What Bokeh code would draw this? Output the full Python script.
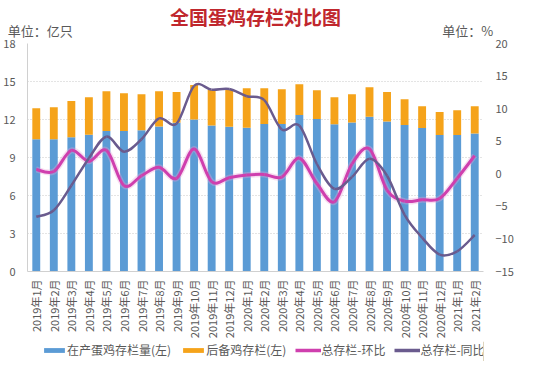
import numpy as np
from bokeh.plotting import figure
from bokeh.layouts import column
from bokeh.models import (Range1d, LinearAxis, FixedTicker,
                          Legend, LegendItem, ColumnDataSource)
from bokeh.embed import file_html
from bokeh.resources import INLINE

# ---------------- data ----------------
months = ["2019年1月", "2019年2月", "2019年3月", "2019年4月", "2019年5月", "2019年6月",
          "2019年7月", "2019年8月", "2019年9月", "2019年10月", "2019年11月", "2019年12月",
          "2020年1月", "2020年2月", "2020年3月", "2020年4月", "2020年5月", "2020年6月",
          "2020年7月", "2020年8月", "2020年9月", "2020年10月", "2020年11月", "2020年12月",
          "2021年1月", "2021年2月"]
layer_stock = [10.45, 10.45, 10.6, 10.8, 11.1, 11.1, 11.16, 11.45, 11.74, 12.0, 11.52, 11.43,
               11.35, 11.65, 11.65, 12.35, 12.03, 11.63, 11.77, 12.21, 11.85, 11.56, 11.32,
               10.77, 10.77, 10.9]
reserve_stock = [2.44, 2.52, 2.87, 2.96, 3.13, 2.97, 2.83, 2.78, 2.44, 2.73, 2.81, 2.90,
                 3.11, 2.81, 2.74, 2.43, 2.27, 2.13, 2.22, 2.33, 2.33, 2.04, 1.73, 1.83,
                 1.96, 2.15]
mom_pct = [0.65, 0.35, 3.6, 1.9, 3.6, -1.8, -0.3, 1.0, -0.7, 3.8, -1.2, -0.6, -0.2, -0.1,
           -0.5, 2.4, -1.5, -4.3, 1.5, 3.8, -2.5, -4.2, -4.0, -3.8, -0.7, 2.8]
yoy_pct = [-6.6, -5.6, -1.8, 2.4, 5.7, 3.4, 5.3, 8.5, 7.7, 13.5, 12.9, 13.0, 11.9, 11.3,
           6.8, 7.4, 1.5, -2.3, -0.5, 2.3, -0.3, -6.3, -9.8, -12.4, -11.9, -9.4]
left_ticks = [0, 3, 6, 9, 12, 15, 18]
right_ticks = [-15, -10, -5, 0, 5, 10, 15, 20]
series_names = ["在产蛋鸡存栏量(左)", "后备鸡存栏(左)", "总存栏-环比", "总存栏-同比"]
title_text = "全国蛋鸡存栏对比图"
unit_texts = ["单位：亿只", "单位：%"]

FONT = "Noto Sans CJK SC"
GRAY = "#595959"
BLUE, ORANGE, MAGENTA, PURPLE = "#5B9BD5", "#F5A31A", "#CF3FAE", "#6A5B8E"

n = len(months)
pos = [i + 0.5 for i in range(n)]          # category slot centres

# ---------------- main chart ----------------
fig = figure(width=520, height=341, x_range=Range1d(0, n), y_range=Range1d(0, 18),
             output_backend="svg", toolbar_location=None, title=title_text,
             min_border_left=20, min_border_right=37, min_border_top=43, min_border_bottom=68)
fig.outline_line_color = None
fig.title.align = "center"
fig.title.vertical_align = "middle"
fig.title.text_font = FONT
fig.title.text_font_size = "19px"
fig.title.text_font_style = "bold"
fig.title.text_color = "#C0272D"
fig.title.standoff = -26

src = ColumnDataSource(dict(pos=pos, layer=layer_stock, reserve=reserve_stock))
fig.vbar_stack(["layer", "reserve"], x="pos", width=0.45,
               color=[BLUE, ORANGE], line_color=None, source=src)

fig.extra_y_ranges = {"pct": Range1d(-15, 20)}


def smooth_segments(xs, vals):
    m = len(vals)
    x = np.asarray(xs, dtype=float)
    y = np.asarray(vals, dtype=float)
    qx = np.concatenate([[x[0]], x, [x[-1]]])
    qy = np.concatenate([[y[0]], y, [y[-1]]])
    x0, y0 = qx[1:m], qy[1:m]
    x1, y1 = qx[2:m + 1], qy[2:m + 1]
    cx0 = x0 + (qx[2:m + 1] - qx[0:m - 1]) / 6
    cy0 = y0 + (qy[2:m + 1] - qy[0:m - 1]) / 6
    cx1 = x1 - (qx[3:m + 2] - qx[1:m]) / 6
    cy1 = y1 - (qy[3:m + 2] - qy[1:m]) / 6
    return dict(x0=x0, y0=y0, x1=x1, y1=y1, cx0=cx0, cy0=cy0, cx1=cx1, cy1=cy1)


mom_src = ColumnDataSource(smooth_segments(pos, mom_pct))
yoy_src = ColumnDataSource(smooth_segments(pos, yoy_pct))
bz = dict(x0="x0", y0="y0", x1="x1", y1="y1", cx0="cx0", cy0="cy0", cx1="cx1", cy1="cy1")
fig.bezier(**bz, source=mom_src, line_color="#E9A0D8", line_width=6, line_alpha=0.35,
           y_range_name="pct")
fig.bezier(**bz, source=mom_src, line_color=MAGENTA, line_width=3, y_range_name="pct")
fig.bezier(**bz, source=yoy_src, line_color=PURPLE, line_width=2.5, y_range_name="pct")

# bottom (category) axis
fig.xaxis.ticker = FixedTicker(ticks=pos)
fig.xaxis.major_label_overrides = {float(v): m for v, m in zip(pos, months)}
fig.xaxis.major_label_orientation = np.pi / 2
fig.xaxis.major_label_text_font = FONT
fig.xaxis.major_label_text_font_size = "11px"
fig.xaxis.major_label_text_color = GRAY
fig.xaxis.major_label_standoff = 8
fig.xaxis.major_tick_out = 0
fig.xaxis.major_tick_in = 0
fig.xaxis.axis_line_color = "#D0D0D0"
fig.xaxis.major_tick_line_color = None
fig.xaxis.minor_tick_line_color = None

# left axis
fig.yaxis.ticker = FixedTicker(ticks=left_ticks)
fig.yaxis.major_label_text_font = FONT
fig.yaxis.major_label_text_font_size = "11px"
fig.yaxis.major_label_text_color = GRAY
fig.yaxis.major_label_standoff = 12
fig.yaxis.major_tick_out = 0
fig.yaxis.major_tick_in = 0
fig.yaxis.axis_line_color = "#D0D0D0"
fig.yaxis.major_tick_line_color = None
fig.yaxis.minor_tick_line_color = None

# right axis
ax_r = LinearAxis(y_range_name="pct", ticker=FixedTicker(ticks=right_ticks))
ax_r.major_label_text_font = FONT
ax_r.major_label_text_font_size = "11px"
ax_r.major_label_text_color = GRAY
ax_r.major_label_standoff = 12
ax_r.major_tick_out = 0
ax_r.major_tick_in = 0
ax_r.axis_line_color = None
ax_r.major_tick_line_color = None
ax_r.minor_tick_line_color = None
fig.add_layout(ax_r, "right")

# unit captions above the plot, as labels of a bare top axis
fig.extra_x_ranges = {"unit": Range1d(0, 463)}
unit_axis = LinearAxis(x_range_name="unit", ticker=FixedTicker(ticks=[13, 447]),
                       major_label_overrides={13: unit_texts[0], 447: unit_texts[1]})
unit_axis.axis_line_color = None
unit_axis.major_tick_line_color = None
unit_axis.minor_tick_line_color = None
unit_axis.major_tick_out = 0
unit_axis.major_tick_in = 0
unit_axis.major_label_standoff = 4
unit_axis.major_label_text_font = FONT
unit_axis.major_label_text_font_size = "13px"
unit_axis.major_label_text_color = GRAY
fig.add_layout(unit_axis, "above")

fig.xgrid.visible = False
fig.ygrid.ticker = FixedTicker(ticks=left_ticks)
fig.ygrid.grid_line_color = "#C8C8C8"
fig.ygrid.grid_line_dash = "1 2"

# ---------------- legend strip ----------------
leg = figure(width=520, height=20, x_range=Range1d(0, 1), y_range=Range1d(0, 1),
             x_axis_type=None, y_axis_type=None, output_backend="svg",
             toolbar_location=None, min_border=0)
leg.outline_line_color = None
leg.grid.visible = False
# swatch-only renderers, placed outside the visible range of this strip
r_blue = leg.vbar(x=[5], top=[1], width=1, color=BLUE, line_color=None)
r_orange = leg.vbar(x=[5], top=[1], width=1, color=ORANGE, line_color=None)
r_mom = leg.line(x=[5, 6], y=[0.5, 0.5], line_color=MAGENTA, line_width=3.5)
r_yoy = leg.line(x=[5, 6], y=[0.5, 0.5], line_color=PURPLE, line_width=3.5)
legend = Legend(items=[LegendItem(label=series_names[0], renderers=[r_blue]),
                       LegendItem(label=series_names[1], renderers=[r_orange]),
                       LegendItem(label=series_names[2], renderers=[r_mom]),
                       LegendItem(label=series_names[3], renderers=[r_yoy])],
                orientation="horizontal", location=(14, 3), padding=0, margin=0,
                spacing=9, label_standoff=0, glyph_width=26, glyph_height=6,
                label_height=14, label_text_font=FONT, label_text_font_size="12px",
                label_text_color=GRAY, border_line_color=None, background_fill_alpha=0)
leg.add_layout(legend, "center")

p = column(fig, leg, spacing=0)
open("out.html", "w").write(file_html(p, INLINE))
